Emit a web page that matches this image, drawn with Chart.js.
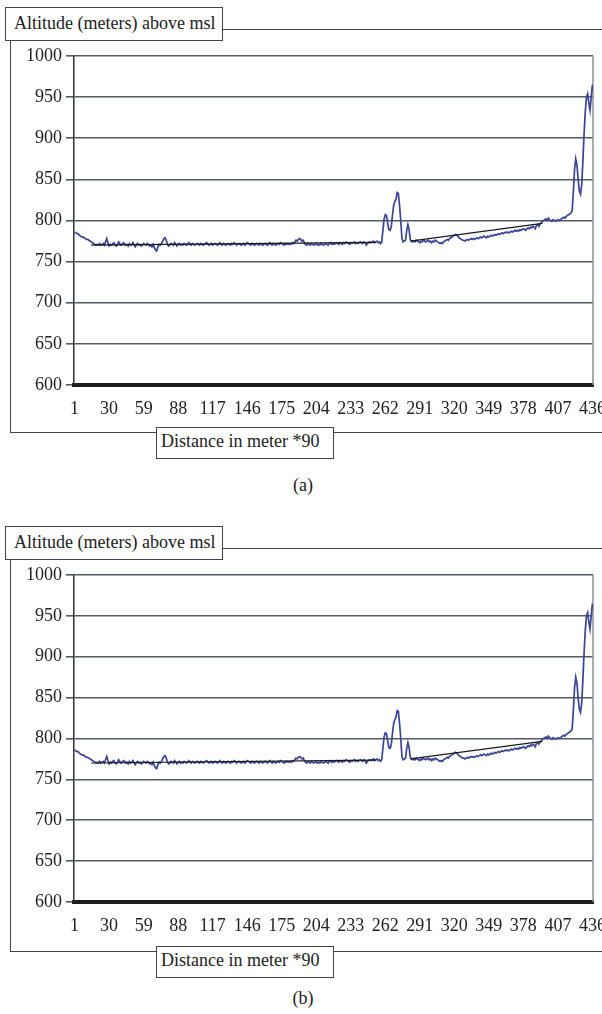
<!DOCTYPE html>
<html>
<head>
<meta charset="utf-8">
<script src="https://cdn.jsdelivr.net/npm/chart.js@4.4.0/dist/chart.umd.min.js"></script>
<style>
  body { margin: 0; background: #fff; font-family: "Liberation Serif", "Times New Roman", serif; }
  .panel { position: absolute; left: 0; width: 602px; height: 505px; }
  .frame { position: absolute; left: 10px; top: 29px; width: 620px; height: 402px; border: 1.5px solid #40454b; }
  .panel canvas { position: absolute; left: 0; top: 0; }
  .box { position: absolute; background: #fff; border: 1.5px solid #40454b; font-size: 18px; color: #222; white-space: nowrap; box-sizing: border-box; }
  .ytitle { left: 5px; top: 7px; width: 218px; height: 34px; padding: 5px 0 0 8px; }
  .xtitle { left: 156px; top: 427px; width: 178px; height: 32px; padding: 3px 0 0 4px; }
  .caption { position: absolute; left: 0; width: 606px; text-align: center; font-size: 18px; color: #222; }
  body > div.clip { position: absolute; left: 0; top: 0; width: 602px; height: 1014px; overflow: hidden; }
</style>
</head>
<body>
<div class="clip">

<div class="panel" style="top:0">
  <div class="frame"></div>
  <canvas id="chartA" width="602" height="445"></canvas>
  <div class="box ytitle">Altitude (meters) above msl</div>
  <div class="box xtitle">Distance in meter *90</div>
  <div class="caption" style="top:475px">(a)</div>
</div>

<div class="panel" style="top:519px">
  <div class="frame"></div>
  <canvas id="chartB" width="602" height="445"></canvas>
  <div class="box ytitle">Altitude (meters) above msl</div>
  <div class="box xtitle">Distance in meter *90</div>
  <div class="caption" style="top:469px">(b)</div>
</div>

</div>
<script>
// altitude profile, one value per distance step (1..436)
var altitude = [
  786, 785, 784, 784, 782, 781, 780, 780, 779, 778, 777, 777, 776, 775, 774, 773, 772, 771, 770, 771,
  770, 772, 770, 771, 772, 770, 774, 778, 773, 769, 771, 770, 772, 773, 770, 769, 771, 774, 772, 770,
  771, 773, 772, 770, 771, 769, 772, 770, 771, 773, 770, 768, 771, 772, 770, 771, 769, 770, 772, 771,
  770, 772, 771, 769, 770, 768, 771, 767, 764, 763, 768, 771, 770, 772, 775, 778, 779, 776, 771, 769,
  770, 772, 771, 770, 773, 771, 769, 771, 772, 770, 771, 770, 772, 771, 770, 771, 773, 771, 770, 772,
  771, 770, 771, 772, 771, 770, 772, 771, 770, 771, 772, 773, 771, 770, 771, 772, 770, 771, 772, 771,
  770, 771, 773, 771, 770, 772, 771, 770, 771, 772, 771, 770, 772, 771, 773, 772, 770, 771, 772, 771,
  770, 771, 772, 770, 771, 773, 772, 771, 770, 772, 771, 770, 771, 772, 771, 770, 772, 771, 770, 771,
  772, 771, 770, 771, 773, 771, 770, 772, 771, 770, 771, 772, 771, 773, 772, 771, 770, 772, 771, 772,
  771, 772, 771, 773, 772, 774, 776, 775, 777, 778, 777, 775, 776, 773, 771, 770, 772, 771, 770, 772,
  771, 770, 771, 772, 770, 771, 770, 772, 771, 770, 771, 772, 771, 770, 772, 773, 771, 772, 771, 772,
  773, 772, 771, 773, 772, 771, 773, 772, 774, 773, 772, 771, 773, 772, 773, 774, 772, 773, 772, 773,
  774, 773, 772, 774, 773, 770, 772, 773, 774, 773, 774, 775, 773, 774, 775,
  773, 774, 772, 774, 788, 802, 807, 806, 797, 789, 788, 792, 806, 818, 823, 826, 834, 833, 818, 800,
  778, 774, 775, 776, 788, 795, 789, 777, 775,
  774, 775, 774, 776, 775, 774, 773, 775, 774, 776, 775, 774, 775, 776, 774, 775, 773, 775, 774, 776,
  775, 774, 773, 772, 773, 772, 774, 775, 776, 777, 776, 778, 779, 780, 781, 782, 783, 782, 781, 779,
  778, 777, 776, 776, 775, 776, 777, 776, 777, 778, 777, 778, 777, 778, 779, 778, 779, 780, 779, 780,
  781, 780, 779, 781, 780, 781, 782, 781, 782, 783, 782, 783, 784, 783, 784, 785, 784, 785, 786, 785,
  786, 785, 786, 787, 786, 787, 788, 787, 788, 787, 789, 788, 789, 790, 789, 788, 790, 791, 790, 792,
  791, 793, 792, 790, 794, 795, 793, 796, 797, 799, 800, 801, 802, 800, 803, 801, 800, 799, 801, 800,
  799, 800, 801, 800, 801, 802, 803, 804, 803, 805, 806, 807, 808, 809,
  812, 835, 862, 875, 868, 850, 836, 832, 843, 872, 905, 932, 950, 954, 943, 934, 950, 965
];

// the two straight reference segments drawn in black
var trendDistance = [15, 254, 268, 283, 394];
var trendAltitude = [770, 773.5, null, 775, 796.5];

var xTickLabels = [1, 30, 59, 88, 117, 146, 175, 204, 233, 262, 291, 320, 349, 378, 407, 436];
var yTickLabels = [600, 650, 700, 750, 800, 850, 900, 950, 1000];

var serif = '"Liberation Serif", "Times New Roman", serif';

// thin grey line on the right side of the plot area
var rightEdge = {
  id: 'rightEdge',
  beforeDatasetsDraw: function(chart) {
    var a = chart.chartArea, c = chart.ctx;
    c.save();
    c.strokeStyle = '#8b9197';
    c.lineWidth = 1.5;
    c.beginPath();
    c.moveTo(a.right, a.top);
    c.lineTo(a.right, a.bottom);
    c.stroke();
    c.restore();
  }
};

function drawProfile(id, bottomPad) {
  var profile = altitude.map(function(v, i) { return { x: i + 1, y: v }; });
  var trend = trendDistance.map(function(d, i) { return { x: d, y: trendAltitude[i] }; });

  return new Chart(document.getElementById(id), {
    type: 'line',
    data: {
      datasets: [
        {
          label: 'trend',
          data: trend,
          borderColor: '#1a1a1a',
          borderWidth: 1.2,
          pointRadius: 0,
          spanGaps: false,
          tension: 0
        },
        {
          label: 'Altitude',
          data: profile,
          borderColor: '#3b4497',
          borderWidth: 1.7,
          pointRadius: 0,
          tension: 0
        }
      ]
    },
    options: {
      responsive: false,
      animation: false,
      devicePixelRatio: 1,
      layout: { padding: { left: 0, right: 9, top: 56, bottom: bottomPad } },
      plugins: { legend: { display: false }, tooltip: { enabled: false } },
      scales: {
        x: {
          type: 'linear',
          min: 0.5,
          max: 436.5,
          afterBuildTicks: function(s) { s.ticks = xTickLabels.map(function(v) { return { value: v }; }); },
          afterFit: function(s) { s.height = 30; s.paddingLeft = 0; s.paddingRight = 0; },
          grid: { display: false },
          border: { color: '#1e1e1e', width: 4, dash: [6, 1.5] },
          ticks: {
            autoSkip: false,
            maxRotation: 0,
            padding: 5,
            color: '#222',
            font: { family: serif, size: 18 },
            callback: function(v) { return String(v); }
          }
        },
        y: {
          min: 600,
          max: 1000,
          afterBuildTicks: function(s) { s.ticks = yTickLabels.map(function(v) { return { value: v }; }); },
          afterFit: function(s) { s.width = 74; s.paddingTop = 0; s.paddingBottom = 0; },
          grid: { color: '#525b63', lineWidth: 1.6, tickLength: 8 },
          border: { color: '#333', width: 1.5 },
          ticks: {
            padding: 4,
            color: '#222',
            font: { family: serif, size: 18 },
            callback: function(v) { return String(v); }
          }
        }
      }
    },
    plugins: [rightEdge]
  });
}

drawProfile('chartA', 30);
drawProfile('chartB', 32);
</script>
</body>
</html>
